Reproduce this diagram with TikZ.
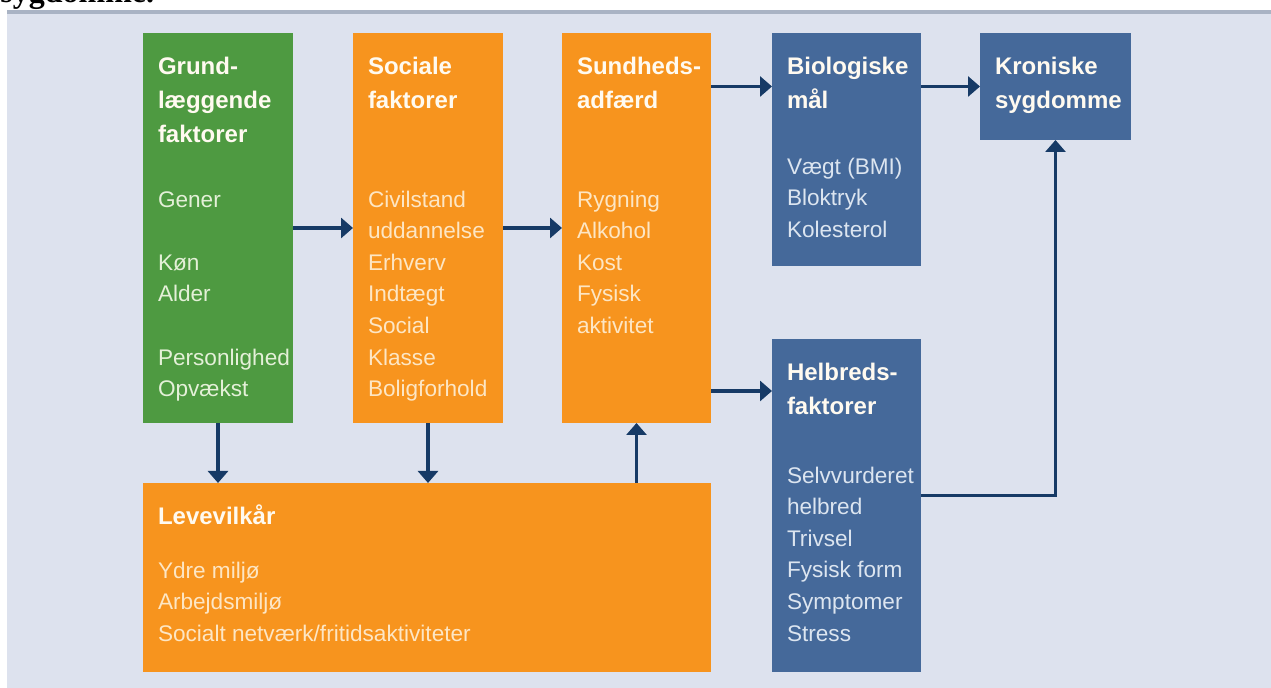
\documentclass[tikz,border=0pt]{standalone}
\usepackage{fontspec}
\setmainfont{Liberation Sans}
\newfontfamily\headfont{Liberation Serif}
\usetikzlibrary{positioning, arrows.meta}
\definecolor{panel}{HTML}{DDE2EE}
\definecolor{panelline}{HTML}{A9B3C4}
\definecolor{grundfill}{HTML}{4E9A41}
\definecolor{orangefill}{HTML}{F7941E}
\definecolor{bluefill}{HTML}{45699A}
\definecolor{arrowblue}{HTML}{163A66}
\definecolor{titletxt}{HTML}{FFFAF0}
\definecolor{orangetxt}{HTML}{FDE6C4}
\definecolor{greentxt}{HTML}{E4F0D8}
\definecolor{bluetxt}{HTML}{DCE5F0}
\tikzset{
box/.style={anchor=north west, inner sep=0, outer sep=0},
boxtitle/.style={box, font=\bfseries\fontsize{12}{17}\selectfont, text=titletxt, align=left},
boxlist/.style={box, font=\fontsize{11.3}{15.8}\selectfont, align=left},
flow/.style={draw=arrowblue, line width=1.6pt, -{Triangle[length=6pt, width=10pt]}}}

\begin{document}
\begin{tikzpicture}[x=0.5pt, y=-0.5pt]
\useasboundingbox (0,0) rectangle (1271,688);
% baggrund
\fill[panel] (7,10) rectangle (1271,688);
\draw[panelline, line width=2pt] (7,12) -- (1271,12);
\node[anchor=base west, inner sep=0, font=\headfont\bfseries\fontsize{16}{19}\selectfont] (caption) at (0,2.5) {sygdomme.};

% kasser
\node[box, fill=grundfill, minimum width=75pt, minimum height=195pt] (grund) at (143,33) {};
\node[box, fill=orangefill, minimum width=75pt, minimum height=195pt] (social) at (353,33) {};
\node[box, fill=orangefill, minimum width=74.5pt, minimum height=195pt] (sund) at (562,33) {};
\node[box, fill=bluefill, minimum width=74.5pt, minimum height=116.5pt] (bio) at (772,33) {};
\node[box, fill=bluefill, minimum width=75.5pt, minimum height=53.5pt] (kron) at (980,33) {};
\node[box, fill=bluefill, minimum width=74.5pt, minimum height=166.5pt] (helb) at (772,339) {};
\node[box, fill=orangefill, minimum width=284pt, minimum height=94.5pt] (leve) at (143,483) {};

% tekster
\node[boxtitle, below right=9pt and 7.5pt of grund.north west] (grund-t) {\strut Grund-\\læggende\\faktorer};
\node[boxlist, text=greentxt, below right=76pt and 7.5pt of grund.north west] (grund-l) {\strut Gener\\[15.8pt]Køn\\Alder\\[15.8pt]Personlighed\\Opvækst};
\node[boxtitle, below right=9pt and 7.5pt of social.north west] (social-t) {\strut Sociale\\faktorer};
\node[boxlist, text=orangetxt, below right=76pt and 7.5pt of social.north west] (social-l) {\strut Civilstand\\uddannelse\\Erhverv\\Indtægt\\Social\\Klasse\\Boligforhold};
\node[boxtitle, below right=9pt and 7.5pt of sund.north west] (sund-t) {\strut Sundheds-\\adfærd};
\node[boxlist, text=orangetxt, below right=76pt and 7.5pt of sund.north west] (sund-l) {\strut Rygning\\Alkohol\\Kost\\Fysisk\\aktivitet};
\node[boxtitle, below right=9pt and 7.5pt of bio.north west] (bio-t) {\strut Biologiske\\mål};
\node[boxlist, text=bluetxt, below right=59.5pt and 7.5pt of bio.north west] (bio-l) {\strut Vægt (BMI)\\Bloktryk\\Kolesterol};
\node[boxtitle, below right=9pt and 7.5pt of kron.north west] (kron-t) {\strut Kroniske\\sygdomme};
\node[boxtitle, below right=9pt and 7.5pt of helb.north west] (helb-t) {\strut Helbreds-\\faktorer};
\node[boxlist, text=bluetxt, below right=61pt and 7.5pt of helb.north west] (helb-l) {\strut Selvvurderet\\helbred\\Trivsel\\Fysisk form\\Symptomer\\Stress};
\node[boxtitle, below right=9pt and 7.5pt of leve.north west] (leve-t) {\strut Levevilkår};
\node[boxlist, text=orangetxt, below right=36.5pt and 7.5pt of leve.north west] (leve-l) {\strut Ydre miljø\\Arbejdsmiljø\\Socialt netværk/fritidsaktiviteter};

% pile
\draw[flow] (grund) -- (social);
\draw[flow] (social) -- (sund);
\draw[flow] (sund.east |- kron) -- (bio.west |- kron);
\draw[flow] (bio.east |- kron) -- (kron);
\coordinate (sund-out) at ([yshift=16pt]sund.south east);
\draw[flow] (sund-out) -- (sund-out -| helb.west);
\draw[flow] (grund.south) -- (grund.south |- leve.north);
\draw[flow] (social.south) -- (social.south |- leve.north);
\draw[flow] (sund.south |- leve.north) -- (sund.south);
\coordinate (helb-out) at ([yshift=5pt]helb.east);
\draw[flow] (helb-out) -| (kron.south);
\end{tikzpicture}
\end{document}
